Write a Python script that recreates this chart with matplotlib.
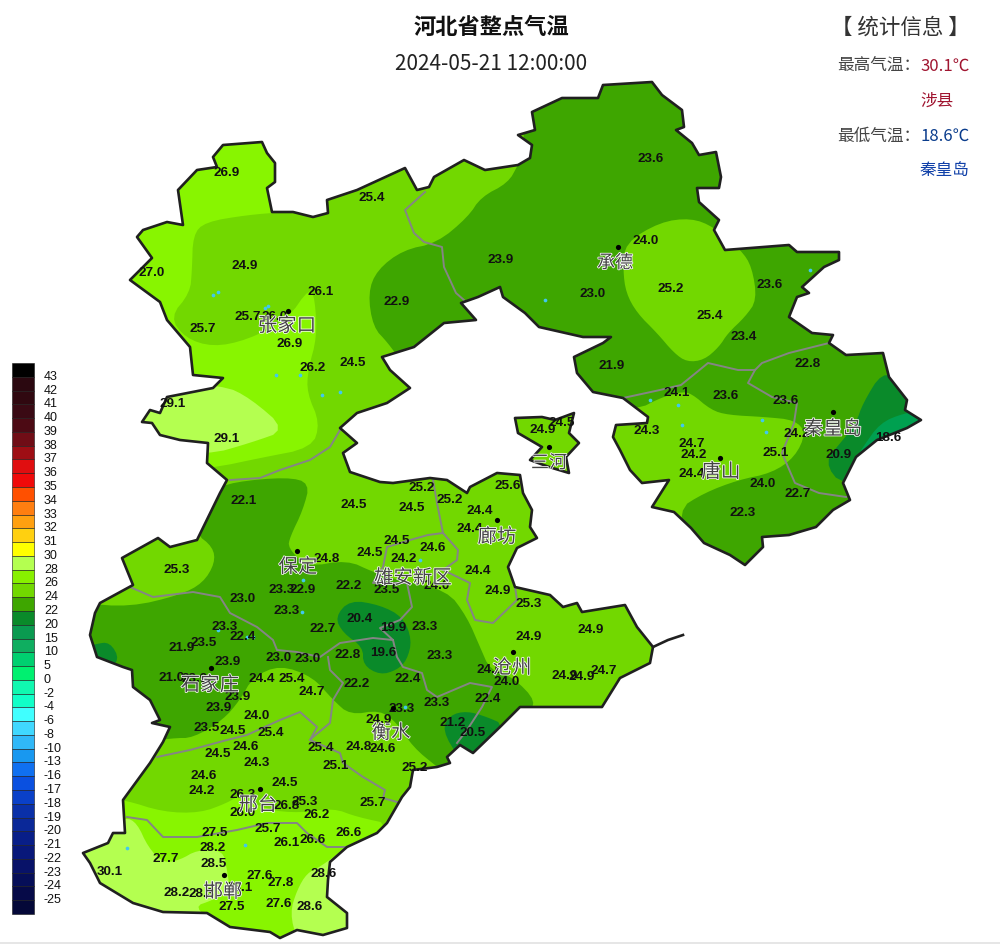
import matplotlib
matplotlib.use("Agg")
import numpy as np
import matplotlib.pyplot as plt
import matplotlib.patheffects as pe
from matplotlib.path import Path
from matplotlib.patches import PathPatch, Rectangle, Polygon

plt.rcParams["font.family"] = ["Noto Sans CJK SC", "DejaVu Sans"]

# legend
LEGEND_LABELS = [43, 42, 41, 40, 39, 38, 37, 36, 35, 34, 33, 32, 31, 30, 28, 26, 24, 22, 20, 15,
                 10, 5, 0, -2, -4, -6, -8, -10, -13, -16, -17, -18, -19, -20, -21, -22, -23, -24, -25]
LEGEND_COLORS = ["#000000", "#2b0810", "#300810", "#3a0a14", "#4c0a14", "#700d16", "#9e0e14", "#e00e10",
                 "#f00a0a", "#ff5000", "#ff7e10", "#ffa010", "#ffd010", "#ffff00", "#b4ff50", "#88f000",
                 "#72d800", "#3ea600", "#0a8a2a", "#0a9a50", "#0fae60", "#00d070", "#00f070", "#10f8b0",
                 "#10ffc8", "#40ffff", "#40d8ff", "#30b8f8", "#1898f0", "#1070f0", "#0a50e0", "#0a40c8",
                 "#0a30a8", "#0a2898", "#081e88", "#08187a", "#081268", "#060e58", "#060a48", "#040838"]
C_28 = "#b4ff50"
C_26 = "#88f500"
C_24 = "#72d800"
C_22 = "#3ea600"
C_20 = "#0a8a2a"
C_15 = "#00a050"

# province border (pixel coords)
OUTLINE = [(262, 142), (267, 153), (275, 163), (275, 182), (267, 188), (272, 212), (293, 212), (313, 217),
           (328, 213), (327, 200), (357, 190), (405, 168), (417, 190), (429, 187), (434, 177), (464, 160),
           (485, 170), (518, 165), (530, 158), (532, 145), (518, 135), (535, 130), (532, 112), (562, 98),
           (598, 98), (603, 85), (652, 82), (662, 95), (682, 110), (684, 127), (676, 130), (692, 143),
           (699, 155), (716, 152), (721, 177), (719, 188), (697, 188), (699, 202), (719, 220), (714, 230),
           (725, 250), (789, 245), (797, 252), (839, 252), (839, 260), (824, 267), (802, 287), (809, 293),
           (797, 297), (789, 317), (812, 333), (833, 335), (829, 343), (846, 355), (883, 353), (889, 377),
           (907, 400), (905, 410), (921, 420), (907, 428), (877, 440), (856, 457), (843, 483), (850, 500),
           (833, 510), (816, 527), (789, 535), (762, 537), (763, 547), (745, 565), (730, 555), (704, 543),
           (691, 528), (674, 512), (652, 507), (669, 480), (642, 483), (630, 470), (620, 450), (613, 437),
           (616, 425), (647, 423), (648, 417), (623, 398), (593, 392), (577, 373), (574, 357), (603, 343),
           (611, 337), (583, 337), (539, 327), (525, 313), (503, 297), (500, 287), (478, 297), (461, 303),
           (476, 320), (444, 323), (414, 347), (382, 357), (390, 370), (410, 388), (387, 403), (357, 413),
           (340, 428), (357, 443), (343, 453), (350, 472), (380, 482), (393, 483), (430, 478), (447, 480),
           (467, 493), (470, 487), (497, 473), (520, 475), (523, 493), (532, 510), (530, 527), (537, 538),
           (517, 548), (508, 567), (515, 587), (550, 595), (563, 607), (577, 603), (582, 612), (625, 605),
           (637, 627), (653, 647), (650, 663), (620, 678), (602, 707), (520, 707), (500, 727), (473, 753),
           (460, 745), (447, 757), (450, 763), (437, 767), (413, 770), (410, 787), (402, 797), (387, 823),
           (377, 833), (347, 847), (330, 862), (328, 880), (327, 897), (347, 913), (347, 928), (323, 935),
           (297, 930), (280, 938), (270, 932), (230, 927), (207, 913), (163, 912), (133, 903), (100, 883),
           (90, 863), (83, 853), (108, 843), (113, 833), (125, 833), (123, 800), (150, 763), (163, 742),
           (170, 727), (152, 723), (160, 720), (150, 700), (133, 687), (132, 670), (123, 667), (97, 657),
           (90, 635), (95, 613), (100, 603), (133, 585), (122, 558),
           (158, 538), (170, 547), (197, 540), (220, 493), (227, 480), (207, 463), (208, 443), (180, 440),
           (160, 435), (152, 423), (142, 422), (150, 410), (160, 413), (167, 397), (213, 388), (223, 378),
           (193, 375), (190, 347), (167, 320), (160, 302), (130, 280), (152, 258), (137, 237), (143, 230),
           (167, 222), (183, 225), (178, 190), (197, 170), (217, 167), (213, 157), (223, 145)]
ENCLAVE = [(515, 418), (542, 417), (555, 420), (574, 413), (569, 433), (579, 443), (566, 457), (569, 473),
           (549, 467), (530, 460), (542, 447), (518, 433)]
COAST_SPUR = [(653, 647), (668, 640), (683, 635)]

# temperature zones
ZONE_26_NW = [(120, 130), (290, 130), (285, 212), (247, 215), (205, 222), (193, 235), (192, 270), (190, 293),
              (170, 317), (185, 338), (213, 347), (247, 340), (287, 320), (310, 287), (315, 300), (317, 337),
              (308, 370), (307, 393), (320, 423), (312, 448), (260, 458), (213, 468), (100, 480), (100, 300)]
ZONE_28_NW = [(130, 380), (223, 385), (250, 398), (287, 430), (250, 443), (208, 455), (130, 450)]
ZONE_22_NE = [(525, 150), (518, 165), (508, 183), (481, 197), (468, 217), (437, 243), (403, 250), (377, 270),
              (368, 293), (373, 327), (388, 343), (400, 360), (500, 360), (600, 400), (637, 410), (660, 398),
              (680, 392), (691, 393), (711, 410), (728, 415), (765, 417), (795, 420), (806, 433), (795, 457),
              (772, 473), (738, 480), (704, 493), (677, 510), (690, 570), (960, 570), (960, 60), (520, 60)]
ZONE_24_CD = [(625, 243), (660, 222), (691, 218), (714, 227), (741, 250), (752, 267), (757, 300), (745, 317),
              (728, 333), (719, 347), (704, 360), (687, 362), (674, 353), (657, 333), (637, 313), (626, 293),
              (623, 270)]
ZONE_22_S = [(215, 490), (233, 482), (287, 477), (310, 483), (303, 510), (290, 537), (288, 548), (307, 567),
             (347, 560), (373, 572), (397, 580), (447, 590), (467, 617), (480, 647), (490, 670), (513, 677),
             (537, 702), (525, 715), (500, 740), (470, 770), (450, 775), (437, 767), (413, 747), (397, 723),
             (380, 710), (350, 715), (333, 700), (313, 677), (280, 665), (253, 677), (240, 700), (223, 720),
             (193, 738), (173, 738), (120, 745), (60, 650), (80, 603), (130, 607), (180, 595), (203, 583),
             (215, 563), (213, 547), (195, 533), (200, 500)]
ZONE_20_C = [(350, 600), (380, 605), (403, 617), (412, 640), (407, 660), (397, 670), (380, 675), (363, 665),
             (363, 647), (343, 633), (335, 617)]
ZONE_20_CZ = [(442, 730), (450, 715), (467, 711), (487, 717), (505, 725), (485, 770), (460, 760)]
ZONE_20_W = [(80, 650), (95, 644), (110, 642), (120, 660), (105, 672)]
ZONE_20_QHD = [(882, 372), (863, 403), (856, 423), (843, 440), (824, 462), (843, 487), (900, 470), (940, 420), (900, 380)]
ZONE_15_QHD = [(904, 413), (880, 423), (863, 447), (853, 463), (870, 470), (930, 440), (930, 410)]
ZONE_26_S = [(100, 798), (125, 800), (163, 812), (200, 813), (227, 803), (240, 795), (267, 810), (300, 813),
             (333, 808), (357, 817), (395, 825), (380, 950), (60, 950), (60, 800)]
ZONE_28_SW = [(70, 830), (125, 817), (137, 823), (148, 847), (163, 863), (180, 860), (197, 850), (223, 850),
              (227, 870), (230, 890), (213, 900), (193, 907), (220, 925), (200, 945), (60, 930)]
ZONE_28_SE = [(347, 847), (320, 867), (307, 873), (297, 890), (290, 913), (297, 940), (360, 940), (360, 860)]

# grey prefecture lines
BORDERS = [
    [(425, 192), (405, 210), (414, 233), (424, 242), (442, 247), (444, 267), (456, 293), (464, 300)],
    [(623, 398), (660, 390), (681, 385), (697, 372), (708, 363), (738, 370), (755, 370), (762, 363), (789, 353), (829, 343)],
    [(755, 370), (748, 383), (772, 397), (797, 403), (794, 423), (782, 453), (795, 483), (819, 493), (846, 497)],
    [(340, 430), (330, 447), (310, 460), (280, 470), (260, 478), (230, 480)],
    [(130, 587), (153, 597), (193, 592), (220, 597), (230, 613), (257, 627), (273, 640), (277, 650), (297, 652),
     (320, 657), (340, 643), (373, 638), (393, 640)],
    [(328, 657), (330, 670), (343, 683), (333, 700), (330, 723), (313, 737), (310, 740), (340, 753), (343, 763),
     (363, 777), (385, 790), (383, 798), (397, 802)],
    [(157, 757), (190, 750), (227, 740), (247, 735), (280, 720), (300, 712), (317, 727), (310, 740)],
    [(127, 817), (147, 820), (163, 837), (197, 837), (237, 830), (267, 823), (297, 823), (307, 833), (327, 847), (347, 847)],
    [(433, 480), (437, 503), (443, 533), (428, 535), (410, 540), (387, 547), (383, 567), (373, 583), (407, 583),
     (412, 607), (400, 620), (380, 628), (393, 640), (397, 657), (403, 667), (422, 673), (427, 690), (437, 697),
     (470, 683), (492, 687), (482, 707), (467, 730), (457, 743)],
    [(443, 533), (458, 550), (457, 560), (443, 570), (470, 583), (467, 600), (475, 620), (493, 623), (517, 600), (515, 587)],
]

# small lakes
LAKE_X = [213, 218, 268, 265, 276, 300, 322, 340, 545, 650, 678, 682, 762, 766, 810, 870, 247, 303, 253, 218, 302, 127, 245, 405, 420]
LAKE_Y = [295, 292, 306, 308, 375, 375, 395, 392, 300, 400, 405, 425, 420, 432, 270, 465, 637, 580, 637, 630, 612, 848, 845, 707, 560]

# stations
STATION_VALS = ["26.9", "25.4", "27.0", "24.9", "26.1", "25.7", "26.0", "25.7", "26.9", "26.2", "24.5", "22.9", "29.1", "29.1",
                "23.6", "24.0", "23.9", "23.0", "25.2", "25.4", "23.6", "23.4", "21.9", "22.8", "24.1", "23.6", "23.6",
                "24.9", "24.5", "24.3", "24.7", "24.2", "24.2", "25.1", "20.9", "18.6", "24.0", "24.4", "22.7", "22.3",
                "25.2", "25.2", "25.6", "24.5", "24.5", "24.4", "24.4", "24.5", "24.6", "24.5", "24.2", "24.8", "24.4", "24.9",
                "22.2", "23.5", "24.0", "25.3", "20.4", "19.9", "23.3", "24.9", "24.9", "22.7", "22.8", "19.6", "23.3",
                "24.0", "24.0", "24.9", "24.9", "24.7", "22.4", "22.2", "24.7", "22.4", "23.3", "23.3", "21.2", "20.5",
                "24.9", "24.8", "24.6", "25.4", "25.1", "25.7", "25.3", "26.2", "26.6", "26.6", "25.2",
                "22.1", "25.3", "23.3", "22.9", "23.0", "23.3", "23.3", "22.4", "21.9", "23.5", "23.9", "23.0", "23.0",
                "21.0", "23.9", "24.4", "25.4", "23.9", "23.9", "24.0", "23.5", "24.5", "25.4", "24.6", "24.5", "24.3",
                "24.6", "24.2", "24.5", "26.3", "26.0", "26.8", "27.5", "25.7", "28.2", "26.1", "27.7", "28.5", "30.1",
                "27.6", "27.8", "28.6", "28.2", "28.3", "28.1", "27.5", "27.6", "28.6"]
STATION_X = [227, 372, 152, 245, 321, 248, 275, 203, 290, 313, 353, 397, 173, 227,
             651, 646, 501, 593, 671, 710, 770, 744, 612, 808, 677, 726, 786,
             543, 562, 647, 692, 694, 797, 776, 839, 888, 763, 692, 798, 743,
             422, 450, 508, 354, 412, 480, 470, 397, 433, 370, 404, 327, 478, 498,
             349, 387, 437, 529, 360, 393, 425, 529, 591, 323, 348, 383, 440,
             490, 507, 565, 582, 604, 408, 357, 312, 488, 437, 402, 453, 473,
             379, 359, 383, 321, 336, 373, 305, 317, 349, 313, 415,
             244, 177, 282, 303, 243, 287, 225, 243, 182, 204, 228, 279, 308,
             172, 195, 262, 292, 238, 219, 257, 207, 233, 271, 246, 218, 257,
             204, 202, 285, 243, 243, 287, 215, 268, 213, 287, 166, 214, 110,
             260, 281, 324, 177, 202, 240, 232, 279, 310]
STATION_Y = [173, 198, 273, 266, 292, 317, 317, 329, 344, 368, 363, 302, 404, 439,
             159, 241, 260, 294, 289, 316, 285, 337, 366, 364, 393, 396, 401,
             430, 423, 431, 444, 455, 434, 453, 455, 438, 484, 474, 494, 513,
             488, 500, 486, 505, 508, 511, 529, 541, 548, 553, 559, 559, 571, 591,
             586, 590, 586, 604, 619, 628, 627, 637, 630, 629, 655, 653, 656,
             670, 682, 676, 677, 671, 679, 684, 692, 699, 703, 709, 723, 733,
             720, 747, 749, 748, 766, 803, 802, 815, 833, 840, 768,
             501, 570, 590, 590, 599, 611, 627, 637, 648, 643, 662, 658, 659,
             678, 679, 679, 679, 697, 708, 716, 728, 731, 733, 747, 754, 763,
             776, 791, 783, 795, 813, 806, 833, 829, 848, 843, 859, 864, 872,
             876, 883, 874, 893, 894, 888, 907, 904, 907]

# cities
CITY_NAMES = ["张家口", "承德", "唐山", "秦皇岛", "廊坊", "保定", "雄安新区", "沧州", "石家庄", "衡水", "邢台", "邯郸", "三河"]
CITY_DOT_X = [288, 618, 720, 833, 497, 297, 513, 211, 393, 260, 224, 549]
CITY_DOT_Y = [311, 247, 458, 412, 520, 551, 652, 668, 708, 789, 875, 447]
CITY_TEXT_X = [287, 615, 721, 833, 497, 298, 413, 512, 210, 391, 258, 223, 549]
CITY_TEXT_Y = [326, 263, 472, 429, 537, 567, 578, 668, 685, 733, 805, 892, 463]


def smooth(pts, n=2):
    # corner cutting so the zones look like contours
    p = np.array(pts, dtype=float)
    for _ in range(n):
        q = np.roll(p, -1, axis=0)
        p = np.column_stack([0.75 * p + 0.25 * q, 0.25 * p + 0.75 * q]).reshape(-1, 2)
    return p


def land_path():
    verts, codes = [], []
    for ring in (OUTLINE, ENCLAVE):
        verts += list(ring) + [ring[0]]
        codes += [Path.MOVETO] + [Path.LINETO] * (len(ring) - 1) + [Path.CLOSEPOLY]
    return Path(verts, codes)


fig = plt.figure(figsize=(10, 9.44), dpi=100)
ax = fig.add_axes([0, 0, 1, 1])
ax.set_xlim(0, 1000)
ax.set_ylim(944, 0)
ax.axis("off")

land = PathPatch(land_path(), facecolor=C_24, edgecolor="none", zorder=1)
ax.add_patch(land)

zones = [(ZONE_26_NW, C_26), (ZONE_28_NW, C_28), (ZONE_22_NE, C_22), (ZONE_24_CD, C_24), (ZONE_22_S, C_22),
         (ZONE_20_C, C_20), (ZONE_20_CZ, C_20), (ZONE_20_W, C_20), (ZONE_20_QHD, C_20), (ZONE_15_QHD, C_15),
         (ZONE_26_S, C_26), (ZONE_28_SW, C_28), (ZONE_28_SE, C_28)]
for i, (pts, col) in enumerate(zones):
    poly = Polygon(smooth(pts), closed=True, facecolor=col, edgecolor="none", zorder=2 + i * 0.01)
    ax.add_patch(poly)
    poly.set_clip_path(land)

lakes = ax.scatter(LAKE_X, LAKE_Y, s=7, color="#40c8f0", linewidths=0, zorder=2.5)
lakes.set_clip_path(land)

for line in BORDERS:
    xs, ys = zip(*line)
    ax.plot(xs, ys, color="#858585", lw=1.4, zorder=3, solid_joinstyle="round")

ax.add_patch(PathPatch(land_path(), facecolor="none", edgecolor="#202020", lw=1.9, zorder=4, joinstyle="round"))
sx, sy = zip(*COAST_SPUR)
ax.plot(sx, sy, color="#202020", lw=1.9, zorder=4)

for v, x, y in zip(STATION_VALS, STATION_X, STATION_Y):
    t = ax.text(x, y, v, ha="center", va="center", fontsize=9.7, fontweight="bold",
                family="Liberation Sans", color="#111111", zorder=6)
    t.set_clip_path(land)
    t.set_clip_on(True)

ax.scatter(CITY_DOT_X, CITY_DOT_Y, s=14, color="black", linewidths=0, zorder=6)
halo = [pe.withStroke(linewidth=1.1, foreground="white")]
for name, x, y in zip(CITY_NAMES, CITY_TEXT_X, CITY_TEXT_Y):
    size = 14 if name not in ("三河", "承德") else 13
    ax.text(x, y, name, ha="center", va="center", fontsize=size, color="#444444", zorder=7, path_effects=halo)

# colour legend
n_cells = len(LEGEND_COLORS)
cell_h = (914 - 363) / n_cells
for i, col in enumerate(LEGEND_COLORS):
    ax.add_patch(Rectangle((11.5, 363 + i * cell_h), 22, cell_h, facecolor=col, edgecolor="#1a1a1a", lw=0.4, zorder=3))
for i, lab in enumerate(LEGEND_LABELS):
    ax.text(44, 363 + (i + 1) * cell_h, str(lab), ha="left", va="center", fontsize=9, family="Liberation Sans", color="#111111")

# header
ax.text(491, 27, "河北省整点气温", ha="center", va="center", fontsize=16, fontweight="bold", color="#111111")
ax.text(491, 64, "2024-05-21 12:00:00", ha="center", va="center", fontsize=15, color="#222222")

# stats box
ax.text(900, 28, "【 统计信息 】", ha="center", va="center", fontsize=15.5, color="#333333")
ax.text(837, 66, "最高气温：", ha="left", va="center", fontsize=12, color="#444444")
ax.text(920, 66, "30.1℃", ha="left", va="center", fontsize=12, color="#a01530")
ax.text(920, 101, "涉县", ha="left", va="center", fontsize=12, color="#a01530")
ax.text(837, 136, "最低气温：", ha="left", va="center", fontsize=12, color="#444444")
ax.text(920, 136, "18.6℃", ha="left", va="center", fontsize=12, color="#0a3c8c")
ax.text(920, 170, "秦皇岛", ha="left", va="center", fontsize=12, color="#1040a8")

# faint page edge at the bottom
ax.plot([0, 1000], [943, 943], color="#e2e2e2", lw=1.2)

fig.savefig("out.png", dpi=100)
